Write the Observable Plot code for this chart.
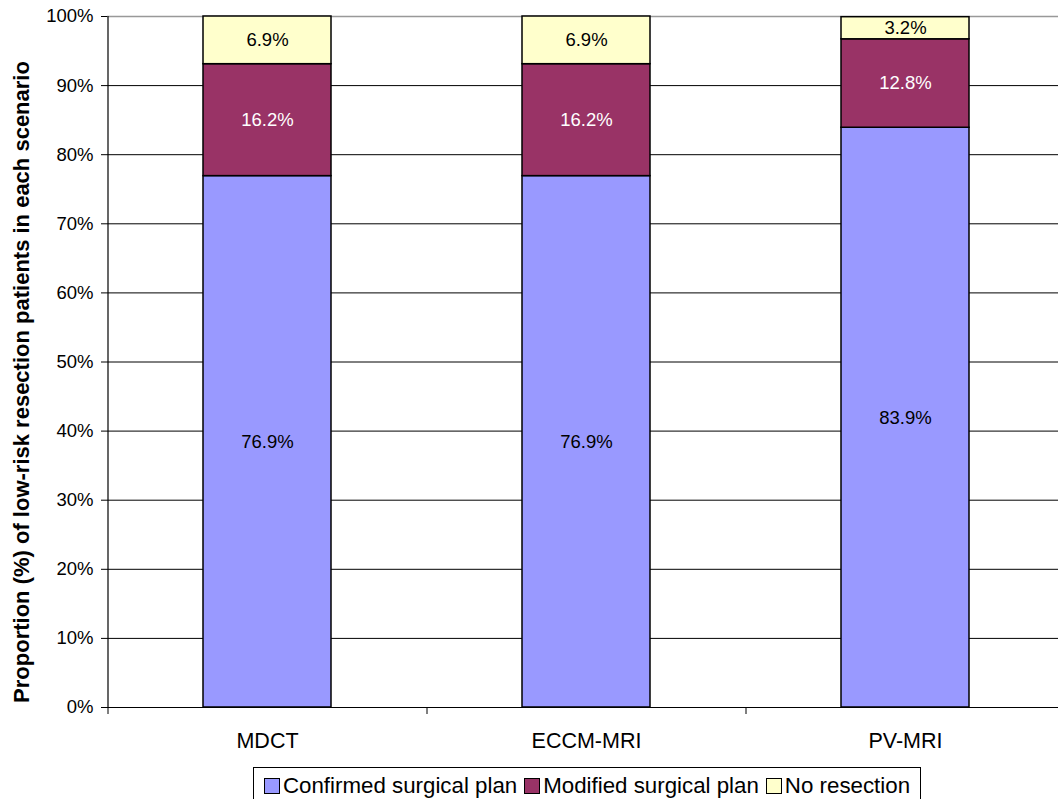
<!DOCTYPE html>
<html>
<head>
<meta charset="utf-8">
<script src="https://cdn.jsdelivr.net/npm/d3@7"></script>
<script src="https://cdn.jsdelivr.net/npm/@observablehq/plot@0.6"></script>
<style>
  body { margin: 0; background: #fff; font-family: "Liberation Sans", Arial, sans-serif; }
  #chart svg { display: block; overflow: visible; position: absolute; top: 0; left: 0; }
  .legend { position: absolute; top: 767px; left: 253px; width: 668px; height: 34px; border: 1px solid #000; border-bottom: none; box-sizing: border-box;
    display: flex; align-items: center; justify-content: center; font-size: 22.3px; color: #000; white-space: nowrap; padding-top: 2px; }
  .item { display: flex; align-items: center; margin-right: 7px; }
  .item:last-child { margin-right: 0; }
  .sw { width: 16px; height: 16px; border: 1.5px solid #000; box-sizing: border-box; margin-right: 3px; }
</style>
</head>
<body>
<div id="chart" style="position:relative;width:1058px;height:799px;overflow:hidden"></div>
<script>
const categories = ["MDCT", "ECCM-MRI", "PV-MRI"];
const series = ["Confirmed surgical plan", "Modified surgical plan", "No resection"];
const confirmed = [76.9, 76.9, 83.9];
const modified = [16.2, 16.2, 12.8];
const noResection = [6.9, 6.9, 3.2];
const colors = ["#9999FF", "#993366", "#FFFFCC"];
const labelColors = ["#000", "#fff", "#000"];
const yTicks = [0, 10, 20, 30, 40, 50, 60, 70, 80, 90, 100];
const yTitle = "Proportion (%) of low-risk resection patients in each scenario";

const values = [confirmed, modified, noResection];
const data = [];
series.forEach((s, si) => categories.forEach((c, ci) => data.push({category: c, series: s, value: values[si][ci]})));

const left = 107, right = 1064;
const step = (right - left) / categories.length;

const plot = Plot.plot({
  width: 1058,
  height: 762,
  marginTop: 16,
  marginBottom: 55,
  marginLeft: left,
  marginRight: 0,
  style: {fontFamily: "'Liberation Sans', Arial, sans-serif", background: "transparent"},
  x: {domain: categories, range: [left, right], paddingInner: 0.6, paddingOuter: 0.3, label: null},
  y: {domain: [0, 100], label: null},
  color: {domain: series, range: colors},
  marks: [
    Plot.ruleY(yTicks.filter(d => d > 0 && d < 100), {stroke: "#000", strokeWidth: 1}),
    Plot.ruleY([100], {stroke: "#999", strokeWidth: 1.5}),
    Plot.barY(data, {x: "category", y: "value", fill: "series", stroke: "#000", strokeWidth: 1.5}),
    Plot.text(data, Plot.stackY({x: "category", y: "value", text: d => d.value.toFixed(1) + "%",
      fill: d => labelColors[series.indexOf(d.series)], fontSize: 18.5})),
    Plot.axisY({ticks: yTicks, tickFormat: d => d + "%", tickSize: 6, tickPadding: 8, fontSize: 18.5, stroke: "#000", label: null}),
    Plot.axisX({tickSize: 0, tickPadding: 25, fontSize: 21.5, label: null}),
    Plot.ruleX(categories, {x: d => d, dx: -step / 2, y1: 0, y2: 0, insetBottom: -7, stroke: "#000"}),
    Plot.ruleY([0], {stroke: "#000", strokeWidth: 1.2}),
    Plot.ruleX([categories[0]], {x: d => d, dx: -step / 2, y1: 0, y2: 100, stroke: "#000", strokeWidth: 1.2})
  ]
});
document.getElementById("chart").appendChild(plot);

// y-axis title
const ns = "http://www.w3.org/2000/svg";
const t = document.createElementNS(ns, "text");
t.setAttribute("transform", "translate(29,382) rotate(-90)");
t.setAttribute("text-anchor", "middle");
t.setAttribute("font-size", "22");
t.setAttribute("font-weight", "bold");
t.setAttribute("font-family", "'Liberation Sans', Arial, sans-serif");
t.setAttribute("fill", "#000");
t.textContent = yTitle;
plot.appendChild(t);

const legend = document.createElement("div");
legend.className = "legend";
series.forEach((s, i) => {
  const it = document.createElement("div");
  it.className = "item";
  const sw = document.createElement("div");
  sw.className = "sw";
  sw.style.background = colors[i];
  it.appendChild(sw);
  it.appendChild(document.createTextNode(s));
  legend.appendChild(it);
});
document.getElementById("chart").appendChild(legend);
</script>
</body>
</html>
